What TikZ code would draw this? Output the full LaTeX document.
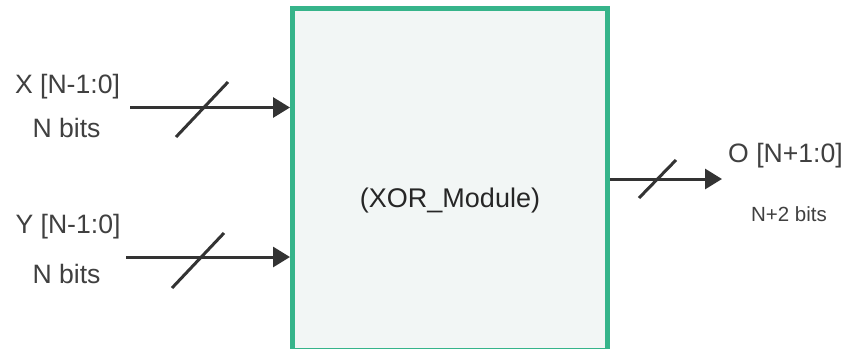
\documentclass[tikz,border=0pt]{standalone}
\usepackage{fontspec}
\setmainfont{Liberation Sans}
\usetikzlibrary{arrows.meta}
\definecolor{modgreen}{HTML}{36B48A}
\definecolor{modfill}{HTML}{F2F6F5}
\definecolor{wire}{HTML}{333333}
\definecolor{labelgrey}{HTML}{404040}
\tikzset{
  modbox/.style={draw=modgreen, fill=modfill, line width=5bp, inner sep=0pt,
    minimum width=315bp, minimum height=341.5bp},
  bus/.style={draw=wire, line width=3bp, -{Triangle[length=17bp,width=20bp]}},
  busmark/.style={draw=wire, line width=3bp},
  biglabel/.style={text=labelgrey, anchor=base, inner sep=0pt,
    font=\fontsize{26.6bp}{30bp}\selectfont},
  smalllabel/.style={text=labelgrey, anchor=base, inner sep=0pt,
    font=\fontsize{20.5bp}{24bp}\selectfont},
  modlabel/.style={text=black!85, anchor=base, inner sep=0pt,
    font=\fontsize{27bp}{30bp}\selectfont}
}
\begin{document}
\begin{tikzpicture}[x=1bp, y=-1bp]
  \clip (0,0) rectangle (851,348);
  \fill[white] (0,0) rectangle (851,348);

  % module block
  \node[modbox] (mod) at (450,179.25) {};
  \node[modlabel] (modname) at (450,207) {(XOR\_Module)};

  % input X
  \node[biglabel] (xname) at (67.5,93) {X [N-1:0]};
  \node[biglabel] (xbits) at (66.5,137) {N bits};
  \coordinate (xin) at (130,107.5);
  \draw[bus] (xin) -- (xin -| mod.west);
  \coordinate (xs1) at (176,137);
  \coordinate (xs2) at (228,82);
  \draw[busmark] (xs1) -- (xs2);

  % input Y
  \node[biglabel] (yname) at (68,233) {Y [N-1:0]};
  \node[biglabel] (ybits) at (66.5,283) {N bits};
  \coordinate (yin) at (126,257);
  \draw[bus] (yin) -- (yin -| mod.west);
  \coordinate (ys1) at (172,288);
  \coordinate (ys2) at (224,233);
  \draw[busmark] (ys1) -- (ys2);

  % output O
  \node[biglabel] (oname) at (785.5,162) {O [N+1:0]};
  \node[smalllabel] (obits) at (789,221) {N+2 bits};
  \coordinate (oout) at (722,179);
  \draw[bus] (oout -| mod.east) -- (oout);
  \coordinate (os1) at (639,198);
  \coordinate (os2) at (676,160);
  \draw[busmark] (os1) -- (os2);
\end{tikzpicture}
\end{document}
